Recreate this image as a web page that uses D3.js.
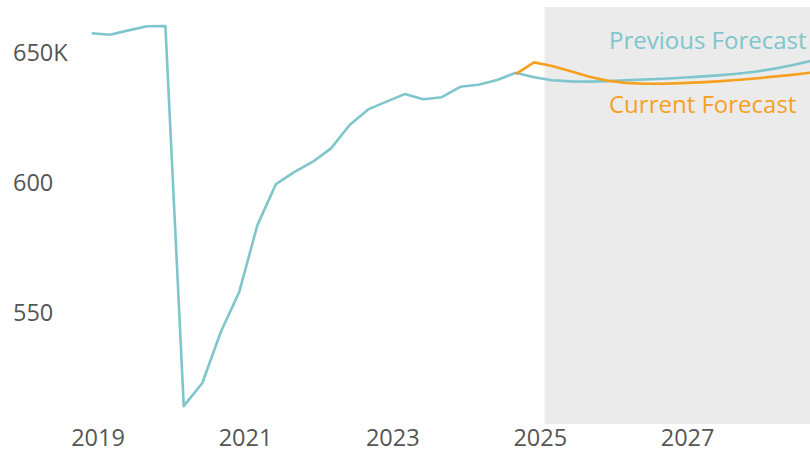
<!DOCTYPE html>
<html>
<head>
<meta charset="utf-8">
<script src="https://cdn.jsdelivr.net/npm/d3@7"></script>
<style>
  html, body { margin: 0; padding: 0; background: #fff; }
  svg { display: block; }
  text { font-family: "Open Sans", sans-serif; }
</style>
</head>
<body>
<svg id="chart" width="810" height="453"></svg>
<script>
// ---- data ----
const startDate = "2018-12-01";           // first quarterly observation
const forecastStart = "2025-01-22";       // shaded forecast period begins
const forecastEnd = "2028-12-31";
const xTickYears = [2019, 2021, 2023, 2025, 2027];
const yTickValues = [550, 600, 650];
const yTickLabels = ["550", "600", "650K"];

// Previous forecast (history + previous outlook), quarterly, thousands
const previousValues = [
  657.6, 657.0, 658.7, 660.3, 660.4,
  514.2, 523.1, 542.8, 558.1, 583.8, 599.6, 604.3, 608.2, 613.3, 622.3,
  628.3, 631.3, 634.2, 632.2, 633.0, 637.0, 637.8, 639.6, 642.4,
  640.7, 639.5, 639.1, 639.0, 639.2, 639.5, 639.8, 640.1, 640.5, 640.9,
  641.4, 642.0, 642.8, 643.9, 645.3, 646.9
];
// Current forecast, starts at the last observed quarter (index 23)
const currentStartIndex = 23;
const currentValues = [
  641.9, 646.4, 645.0, 643.0, 640.9, 639.3, 638.5, 638.2, 638.2, 638.4,
  638.7, 639.1, 639.6, 640.2, 640.9, 641.6, 642.4
];
const seriesNames = ["Previous Forecast", "Current Forecast"];
const colors = { prev: "#7ec6cc", curr: "#f5a11f", shade: "#ebebeb", tick: "#555555" };

// ---- build ----
const parse = d3.timeParse("%Y-%m-%d");
const t0 = parse(startDate);
const dateAt = i => d3.timeMonth.offset(t0, 3 * i);

const prevData = previousValues.map((v, i) => ({ date: dateAt(i), value: v }));
const currData = currentValues.map((v, i) => ({ date: dateAt(currentStartIndex + i), value: v }));

const svg = d3.select("#chart");
const W = 810, H = 453;

const x = d3.scaleTime()
  .domain([new Date(2019, 0, 1), new Date(2027, 0, 1)])
  .range([98, 687.6]);
const y = d3.scaleLinear()
  .domain([550, 650])
  .range([313, 53]);

svg.append("defs").append("clipPath").attr("id", "clip")
  .append("rect").attr("x", 0).attr("y", 0).attr("width", W).attr("height", H);

// shaded forecast area
svg.append("rect")
  .attr("x", x(parse(forecastStart)))
  .attr("y", 7)
  .attr("width", Math.min(W, x(parse(forecastEnd))) - x(parse(forecastStart)))
  .attr("height", 417)
  .attr("fill", colors.shade);

// axes (labels only)
const yAxis = svg.append("g").attr("class", "y-axis");
yAxis.selectAll("text").data(yTickValues).join("text")
  .attr("x", 13)
  .attr("y", d => y(d))
  .attr("dy", "0.36em")
  .attr("text-anchor", "start")
  .attr("font-size", 23.5)
  .attr("fill", colors.tick)
  .text((d, i) => yTickLabels[i]);

const xAxis = svg.append("g").attr("class", "x-axis");
xAxis.selectAll("text").data(xTickYears).join("text")
  .attr("x", d => x(new Date(d, 0, 1)))
  .attr("y", 446)
  .attr("text-anchor", "middle")
  .attr("font-size", 23.5)
  .attr("fill", colors.tick)
  .text(d => d);

// lines
const line = d3.line().x(d => x(d.date)).y(d => y(d.value));
const g = svg.append("g").attr("clip-path", "url(#clip)");
g.append("path").datum(prevData)
  .attr("d", line).attr("fill", "none")
  .attr("stroke", colors.prev).attr("stroke-width", 2.6)
  .attr("stroke-linejoin", "round");
g.append("path").datum(currData)
  .attr("d", line).attr("fill", "none")
  .attr("stroke", colors.curr).attr("stroke-width", 2.6)
  .attr("stroke-linejoin", "round");

// series labels
svg.append("text").attr("x", 609).attr("y", 49)
  .attr("font-size", 24).attr("fill", colors.prev).text(seriesNames[0]);
svg.append("text").attr("x", 609).attr("y", 113)
  .attr("font-size", 24).attr("fill", colors.curr).text(seriesNames[1]);
</script>
</body>
</html>
